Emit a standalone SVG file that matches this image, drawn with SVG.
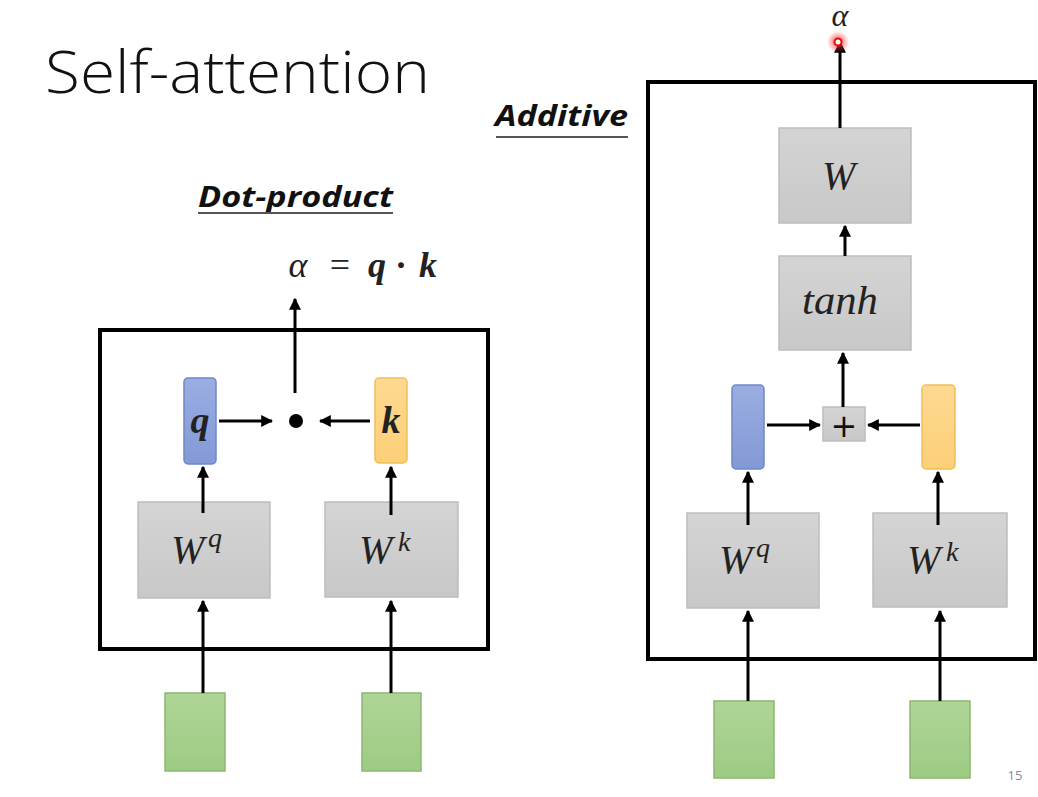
<svg xmlns="http://www.w3.org/2000/svg" width="1038" height="797" viewBox="0 0 1038 797">
<style>
.frame{fill:none;stroke:#000;stroke-width:4}
.gray{fill:url(#gg);stroke:#bdbdbd;stroke-width:1.5}
.blue{fill:url(#bg);stroke:#6f88c9;stroke-width:1.5}
.yel{fill:url(#yg);stroke:#f0c055;stroke-width:1.5}
.grn{fill:url(#ng);stroke:#8cb870;stroke-width:1.5}
.ar{stroke:#000;stroke-width:3;fill:none;marker-end:url(#ah)}
.math{font-family:"Liberation Serif","DejaVu Serif",serif;font-style:italic;fill:#222}
.up{font-family:"Liberation Serif","DejaVu Serif",serif;fill:#222}
.hd{font-family:"Open Sans","Liberation Sans",sans-serif;font-weight:bold;font-style:italic;fill:#111}
</style>
<defs>
<marker id="ah" viewBox="0 0 10 10" refX="9" refY="5" markerWidth="4" markerHeight="4" orient="auto" markerUnits="strokeWidth">
<path d="M0,0 L10,5 L0,10 z" fill="#000"/>
</marker>
<linearGradient id="gg" x1="0" y1="0" x2="0" y2="1"><stop offset="0" stop-color="#d4d4d4"/><stop offset="1" stop-color="#c8c8c8"/></linearGradient>
<linearGradient id="bg" x1="0" y1="0" x2="0" y2="1"><stop offset="0" stop-color="#9aaee2"/><stop offset="1" stop-color="#8399d6"/></linearGradient>
<linearGradient id="yg" x1="0" y1="0" x2="0" y2="1"><stop offset="0" stop-color="#fed991"/><stop offset="1" stop-color="#fccf78"/></linearGradient>
<linearGradient id="ng" x1="0" y1="0" x2="0" y2="1"><stop offset="0" stop-color="#aed596"/><stop offset="1" stop-color="#9dcb83"/></linearGradient>
<radialGradient id="glow"><stop offset="0" stop-color="#ff3030" stop-opacity="0.9"/><stop offset="1" stop-color="#ff3030" stop-opacity="0"/></radialGradient>
</defs>
<rect width="1038" height="797" fill="#fff"/>

<text x="45" y="93" font-family="'Open Sans','Liberation Sans',sans-serif" font-weight="300" font-size="58" fill="#111" textLength="385" lengthAdjust="spacingAndGlyphs">Self-attention</text>

<g id="dot-title">
<text class="hd" x="198" y="207" font-size="28" textLength="195" lengthAdjust="spacingAndGlyphs">Dot-product</text>
<line x1="198" y1="213" x2="393" y2="213" stroke="#555" stroke-width="2"/>
</g>
<g id="add-title">
<text class="hd" x="495" y="126" font-size="28" textLength="133" lengthAdjust="spacingAndGlyphs">Additive</text>
<line x1="496" y1="137" x2="628" y2="137" stroke="#555" stroke-width="2"/>
</g>

<!-- Left panel -->
<g id="dot-frame"><rect class="frame" x="100" y="330" width="388" height="319"/></g>
<g id="dot-formula">
<text class="math" x="298" y="277" font-size="36" text-anchor="middle">α</text>
<text class="up" x="340" y="277" font-size="36" text-anchor="middle">=</text>
<text class="math" x="377" y="277" font-size="36" font-weight="bold" text-anchor="middle">q</text>
<text class="up" x="401" y="277" font-size="36" font-weight="bold" text-anchor="middle">·</text>
<text class="math" x="428" y="277" font-size="36" font-weight="bold" text-anchor="middle">k</text>
</g>
<g id="q-left"><rect class="blue" x="184" y="378" width="32" height="86" rx="4"/><text class="math" x="200" y="433" font-size="38" font-weight="bold" text-anchor="middle">q</text></g>
<g id="k-left"><rect class="yel" x="375" y="378" width="32" height="85" rx="4"/><text class="math" x="391" y="433" font-size="38" font-weight="bold" text-anchor="middle">k</text></g>
<g id="dot-op"><circle cx="296" cy="421" r="7" fill="#000"/></g>
<g id="wq-left"><rect class="gray" x="138" y="502" width="132" height="96"/><text class="math" x="171" y="563" font-size="40">W</text><text class="math" x="208" y="547" font-size="28">q</text></g>
<g id="wk-left"><rect class="gray" x="325" y="502" width="133" height="95"/><text class="math" x="359" y="563" font-size="40">W</text><text class="math" x="398" y="551" font-size="28">k</text></g>
<g id="in1-left"><rect class="grn" x="165" y="693" width="60" height="78"/></g>
<g id="in2-left"><rect class="grn" x="362" y="693" width="59" height="78"/></g>

<!-- Right panel -->
<g id="add-frame"><rect class="frame" x="648" y="82" width="387" height="577"/></g>
<g id="alpha-out"><text class="math" x="840" y="26" font-size="32" text-anchor="middle">α</text></g>
<g id="w-out"><rect class="gray" x="779" y="128" width="132" height="95"/><text class="math" x="822" y="189" font-size="40">W</text></g>
<g id="tanh"><rect class="gray" x="779" y="256" width="132" height="94"/><text class="math" x="802" y="314" font-size="40" textLength="76" lengthAdjust="spacingAndGlyphs">tanh</text></g>
<g id="plus"><rect class="gray" x="823" y="407" width="42" height="34"/><text x="844" y="437" font-family="'DejaVu Sans',sans-serif" font-size="32" text-anchor="middle" fill="#111">+</text></g>
<g id="q-right"><rect class="blue" x="732" y="385" width="32" height="84" rx="4"/></g>
<g id="k-right"><rect class="yel" x="922" y="385" width="33" height="84" rx="4"/></g>
<g id="wq-right"><rect class="gray" x="687" y="513" width="132" height="95"/><text class="math" x="719" y="573" font-size="40">W</text><text class="math" x="756" y="557" font-size="28">q</text></g>
<g id="wk-right"><rect class="gray" x="873" y="513" width="134" height="94"/><text class="math" x="907" y="573" font-size="40">W</text><text class="math" x="946" y="561" font-size="28">k</text></g>
<g id="in1-right"><rect class="grn" x="714" y="701" width="60" height="77"/></g>
<g id="in2-right"><rect class="grn" x="910" y="701" width="60" height="77"/></g>

<g id="connectors">
<line class="ar" x1="295" y1="393" x2="295" y2="299"/>
<line class="ar" x1="219" y1="421" x2="272" y2="421"/>
<line class="ar" x1="370" y1="421" x2="320" y2="421"/>
<line class="ar" x1="203" y1="513" x2="203" y2="467"/>
<line class="ar" x1="391" y1="515" x2="391" y2="467"/>
<line class="ar" x1="203" y1="693" x2="203" y2="601"/>
<line class="ar" x1="391" y1="693" x2="391" y2="601"/>

<line class="ar" x1="840" y1="128" x2="840" y2="42"/>
<line class="ar" x1="845" y1="256" x2="845" y2="226"/>
<line class="ar" x1="843" y1="407" x2="843" y2="353"/>
<line class="ar" x1="767" y1="425" x2="820" y2="425"/>
<line class="ar" x1="920" y1="425" x2="868" y2="425"/>
<line class="ar" x1="748" y1="525" x2="748" y2="472"/>
<line class="ar" x1="938" y1="525" x2="938" y2="472"/>
<line class="ar" x1="748" y1="701" x2="748" y2="611"/>
<line class="ar" x1="940" y1="701" x2="940" y2="611"/>
</g>

<g id="pointer"><circle cx="838" cy="42" r="11" fill="url(#glow)"/><circle cx="838" cy="42" r="3.5" fill="#fff" stroke="#e01010" stroke-width="2"/></g>

<text x="1015" y="780" font-family="'Open Sans','Liberation Sans',sans-serif" font-size="13" fill="#888" text-anchor="middle">15</text>
</svg>
